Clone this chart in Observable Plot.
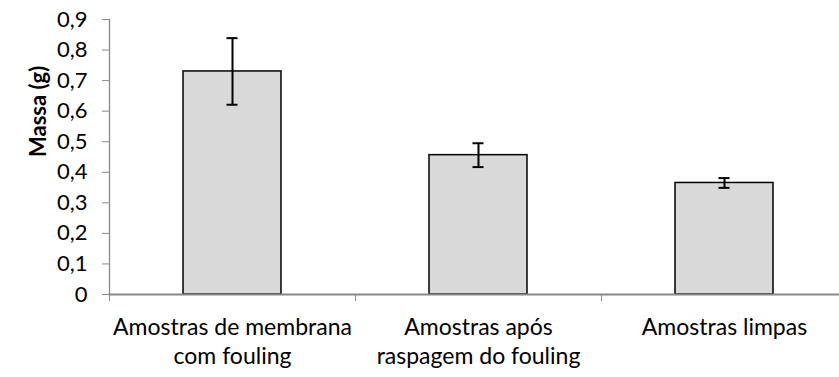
<!DOCTYPE html>
<html>
<head>
<meta charset="utf-8">
<script src="https://cdn.jsdelivr.net/npm/d3@7"></script>
<script src="https://cdn.jsdelivr.net/npm/@observablehq/plot@0.6"></script>
<style>
  html, body { margin: 0; padding: 0; background: #fff; }
  #chart svg { display: block; }
</style>
</head>
<body>
<div id="chart"></div>
<script>
// Massa média por tipo de amostra, com desvio padrão
const categories = [
  "Amostras de membrana\ncom fouling",
  "Amostras após\nraspagem do fouling",
  "Amostras limpas"
];
const massValues = [0.73, 0.456, 0.365];
const errorValues = [0.109, 0.039, 0.016];
const yTicks = [0, 0.1, 0.2, 0.3, 0.4, 0.5, 0.6, 0.7, 0.8, 0.9];

const data = categories.map((cat, i) => ({
  cat,
  mass: massValues[i],
  lo: massValues[i] - errorValues[i],
  hi: massValues[i] + errorValues[i]
}));

const axisGray = "#888888";
const fmt = d => d === 0 ? "0" : d.toFixed(1).replace(".", ",");

const chart = Plot.plot({
  width: 839,
  height: 377,
  marginLeft: 109,
  marginTop: 19,
  marginBottom: 83,
  marginRight: 0,
  style: { fontFamily: "Lato, sans-serif", fontSize: "22px", color: "#000", background: "#fff" },
  x: { domain: categories, range: [109, 847], padding: 0, axis: null },
  y: { domain: [0, 0.9], axis: null },
  marks: [
    // bars
    Plot.barY(data, {
      x: "cat", y: "mass", fill: "#d9d9d9", stroke: "#000", strokeWidth: 1.5,
      insetLeft: 74, insetRight: 74
    }),
    // error bars
    Plot.ruleX(data, { x: "cat", y1: "lo", y2: "hi", stroke: "#000", strokeWidth: 2 }),
    Plot.tickY(data, { y: "lo", x: "cat", stroke: "#000", strokeWidth: 2, insetLeft: 117.5, insetRight: 117.5 }),
    Plot.tickY(data, { y: "hi", x: "cat", stroke: "#000", strokeWidth: 2, insetLeft: 117.5, insetRight: 117.5 }),
    // y axis
    Plot.axisY(yTicks, {
      anchor: "left", tickSize: 7, tickPadding: 15, tickFormat: fmt,
      stroke: axisGray, fill: "#000", label: null, fontSize: 22
    }),
    Plot.frame({ anchor: "left", stroke: axisGray, strokeWidth: 1.3 }),
    // x axis line and category boundary ticks
    Plot.ruleY([0], { stroke: axisGray, strokeWidth: 2 }),
    Plot.axisX({
      anchor: "bottom", tickSize: 7, dx: -123, tickFormat: () => "",
      stroke: axisGray, label: null
    }),
    // category labels
    Plot.text(categories, {
      x: d => d, text: d => d, frameAnchor: "bottom", lineAnchor: "top",
      dy: 20, lineHeight: 1.27, fill: "#000", fontSize: 23
    }),
    // y title
    Plot.text(["Massa (g)"], {
      frameAnchor: "left", rotate: -90, dx: -71, fontWeight: "bold", fill: "#000", fontSize: 22
    })
  ]
});

document.getElementById("chart").appendChild(chart);
</script>
</body>
</html>
